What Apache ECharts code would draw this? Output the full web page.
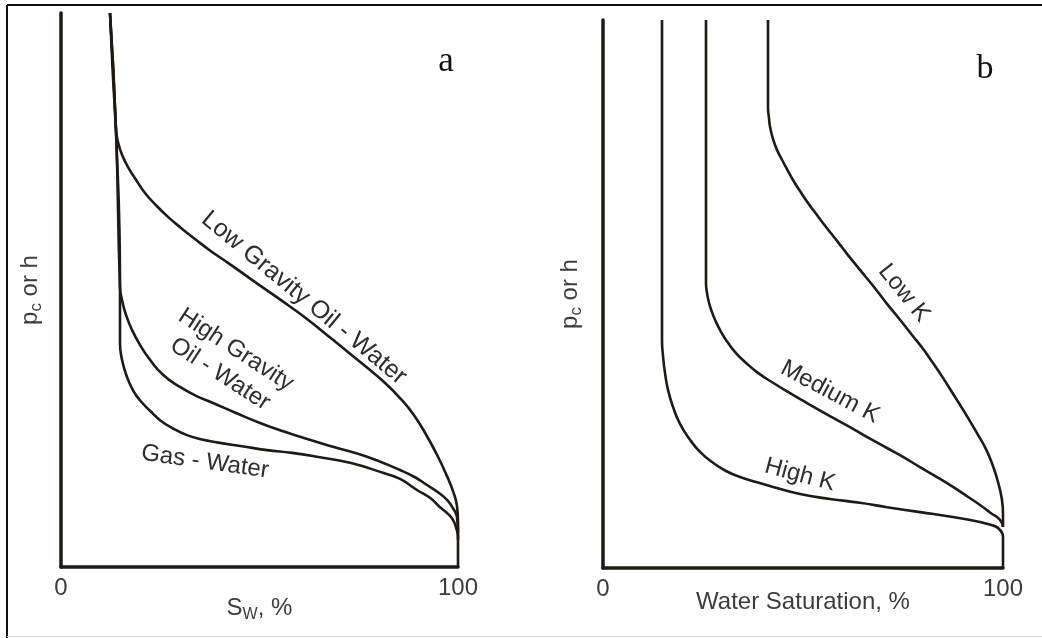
<!DOCTYPE html>
<html>
<head>
<meta charset="utf-8">
<script src="https://cdn.jsdelivr.net/npm/echarts@6/dist/echarts.min.js"></script>
<style>
  html, body { margin: 0; padding: 0; background: #fff; }
  #chart { width: 1042px; height: 638px; }
</style>
</head>
<body>
<div id="chart"></div>
<script>
  // panel a : Sw (%) vs pc or h (relative, 0-100)
  var lowGravityOilWater = [[12.34, 100], [13.85, 78.9], [14.36, 76.7], [15.37, 74.4], [16.88, 72.2], [18.89, 69.9], [21.16, 67.5], [23.93, 65.3], [26.95, 63.2], [30.23, 61.2], [33.75, 59.2], [37.78, 57.0], [42.07, 54.9], [48.36, 51.7], [55.16, 48.3], [61.71, 44.9], [68.51, 41.0], [72.8, 38.5], [77.08, 36.0], [81.36, 33.4], [85.39, 30.5], [88.92, 27.4], [92.19, 23.6], [94.96, 19.9], [97.23, 16.4], [98.74, 13.7], [99.75, 11.0], [100, 8.1], [100, 4.9]];
  var highGravityOilWater = [[12.34, 100], [13.85, 78.9], [14.86, 50.5], [15.37, 48.2], [16.37, 45.5], [17.88, 42.8], [19.9, 40.1], [22.42, 37.4], [25.69, 34.7], [29.97, 32.5], [34.01, 30.9], [38.29, 29.6], [44.08, 27.8], [50.13, 26.0], [55.16, 24.7], [60.2, 23.5], [68.51, 21.7], [77.08, 19.9], [85.39, 17.5], [89.17, 16.2], [92.19, 14.8], [94.96, 13.5], [97.23, 12.1], [98.74, 10.6], [99.75, 9.0], [100, 6.1]];
  var gasWater = [[12.34, 100], [13.85, 78.9], [14.86, 50.5], [14.86, 40.4], [15.37, 37.4], [16.62, 34.3], [18.14, 31.9], [19.9, 30.1], [22.42, 28.2], [24.94, 26.5], [28.21, 25.0], [31.74, 23.8], [35.52, 23.0], [39.29, 22.5], [45.59, 21.8], [51.89, 21.1], [58.19, 20.6], [64.48, 19.9], [72.8, 18.8], [81.11, 17.0], [85.39, 15.9], [89.67, 13.9], [92.95, 12.5], [95.47, 10.8], [97.48, 9.6], [98.74, 8.5], [99.6, 6.9], [100, 5.4], [100, 0]];

  // panel b : water saturation (%) vs pc or h
  var lowK = [[41.25, 100], [41.25, 84.1], [41.5, 82.1], [41.75, 80.5], [42.5, 78.3], [43.5, 76.3], [44.75, 74.5], [46.0, 72.8], [47.5, 70.8], [49.25, 68.8], [51.25, 66.6], [53.5, 64.4], [56.0, 62.0], [58.5, 59.7], [61.25, 57.1], [64.25, 54.4], [67.5, 51.5], [71.0, 48.2], [74.25, 45.3], [77.5, 42.3], [80.0, 40.0], [82.5, 37.4], [85.0, 34.7], [87.5, 31.8], [90.5, 28.3], [93.5, 24.6], [95.75, 21.7], [97.5, 18.6], [98.75, 15.7], [99.75, 12.4], [100, 9.9], [100, 7.5]];
  var mediumK = [[25.75, 100], [25.75, 52.0], [26.0, 50.2], [26.5, 48.4], [27.25, 46.7], [28.0, 45.3], [29.5, 43.1], [31.25, 41.1], [33.25, 39.2], [35.5, 37.6], [38.75, 35.6], [42.5, 33.8], [46.75, 31.9], [51.0, 30.1], [56.75, 27.7], [62.5, 25.4], [66.75, 23.6], [71.0, 21.9], [75.0, 20.3], [79.25, 18.4], [83.5, 16.6], [87.5, 14.8], [91.0, 13.1], [94.25, 11.5], [97.0, 10.0], [99.25, 8.8], [100, 7.5]];
  var highK = [[14.75, 100], [14.75, 41.6], [15.0, 38.7], [15.5, 35.6], [16.25, 32.5], [17.5, 29.4], [19.25, 26.3], [21.75, 23.4], [24.25, 21.2], [27.5, 19.2], [30.75, 17.7], [34.25, 16.6], [38.25, 15.7], [42.5, 14.8], [49.25, 13.5], [56.75, 12.6], [64.25, 11.9], [71.0, 11.1], [79.25, 10.2], [87.5, 9.3], [94.25, 8.4], [97.25, 7.8], [98.75, 7.3], [100, 5.7], [100, 0]];

  var xTicks = [0, 100];

  var ink = '#1e1a14';
  var textGray = '#3c3c3c';
  var sans = 'Liberation Sans';

  var chart = echarts.init(document.getElementById('chart'));

  function xAxisCfg(gridIndex, name, gap) {
    return {
      type: 'value', gridIndex: gridIndex, min: xTicks[0], max: xTicks[1], interval: xTicks[1] - xTicks[0],
      splitLine: { show: false }, axisTick: { show: false },
      axisLine: { lineStyle: { color: ink, width: 3.5 } },
      axisLabel: { show: true, fontSize: 24, color: textGray, fontFamily: sans, margin: 9, showMinLabel: true, showMaxLabel: true },
      name: name, nameLocation: 'middle', nameGap: gap, nameMoveOverlap: false,
      nameTextStyle: {
        fontSize: 24, color: textGray, fontFamily: sans,
        rich: {
          m: { fontSize: 24, color: textGray, fontFamily: sans, lineHeight: 30 },
          s: { fontSize: 16, color: textGray, fontFamily: sans, verticalAlign: 'bottom', lineHeight: 30 }
        }
      }
    };
  }
  function yAxisCfg(gridIndex, gap) {
    return {
      type: 'value', gridIndex: gridIndex, min: 0, max: 100,
      splitLine: { show: false }, axisTick: { show: false }, axisLabel: { show: false },
      axisLine: { lineStyle: { color: ink, width: 3.5 } },
      name: '{m|p}{s|c}{m| or h}', nameLocation: 'middle', nameRotate: 90, nameGap: gap, nameMoveOverlap: false,
      nameTextStyle: {
        rich: {
          m: { fontSize: 24, color: textGray, fontFamily: sans, lineHeight: 30 },
          s: { fontSize: 17, color: textGray, fontFamily: sans, verticalAlign: 'bottom', lineHeight: 26 }
        }
      }
    };
  }
  function curve(data, gridIndex) {
    return {
      type: 'line', data: data, xAxisIndex: gridIndex, yAxisIndex: gridIndex,
      showSymbol: false, smooth: 0.5, clip: false, silent: true,
      lineStyle: { color: ink, width: 2.6 }
    };
  }
  function label(text, x, y, deg, size) {
    return {
      type: 'text', x: x, y: y, rotation: -deg * Math.PI / 180, z: 10,
      style: { text: text, fontSize: size || 24, fontFamily: sans, fill: '#2e2e2e', align: 'center', verticalAlign: 'middle', lineHeight: 29 }
    };
  }

  chart.setOption({
    animation: false,
    backgroundColor: '#fff',
    grid: [
      { left: 61, top: 13, width: 397, height: 554 },
      { left: 603, top: 20, width: 400, height: 548 }
    ],
    xAxis: [
      xAxisCfg(0, '{m|S}{s|W}{m|, %}', 26),
      xAxisCfg(1, '{m|Water Saturation, %}', 19)
    ],
    yAxis: [yAxisCfg(0, 16), yAxisCfg(1, 18)],
    series: [
      curve(lowGravityOilWater, 0),
      curve(highGravityOilWater, 0),
      curve(gasWater, 0),
      curve(lowK, 1),
      curve(mediumK, 1),
      curve(highK, 1)
    ],
    graphic: [
      { type: 'line', shape: { x1: 7, y1: 5, x2: 1042, y2: 5 }, style: { stroke: '#111', lineWidth: 2 } },
      { type: 'line', shape: { x1: 7, y1: 5, x2: 7, y2: 638 }, style: { stroke: '#111', lineWidth: 2 } },
      { type: 'line', shape: { x1: 7, y1: 636.5, x2: 1042, y2: 636.5 }, style: { stroke: '#d8d8d8', lineWidth: 1 } },
      { type: 'text', x: 446, y: 62, style: { text: 'a', fontSize: 35, fontFamily: 'Liberation Serif', fill: '#111', align: 'center', verticalAlign: 'middle' } },
      { type: 'text', x: 985, y: 69, style: { text: 'b', fontSize: 34, fontFamily: 'Liberation Serif', fill: '#111', align: 'center', verticalAlign: 'middle' } },
      label('Low Gravity Oil - Water', 304, 298, 39.5, 25),
      label('High Gravity\nOil - Water', 228, 362, 33),
      label('Gas - Water', 205, 462, 8),
      label('Low K', 904, 293, 51),
      label('Medium K', 830, 392, 28),
      label('High K', 800, 475, 15)
    ]
  });
</script>
</body>
</html>
